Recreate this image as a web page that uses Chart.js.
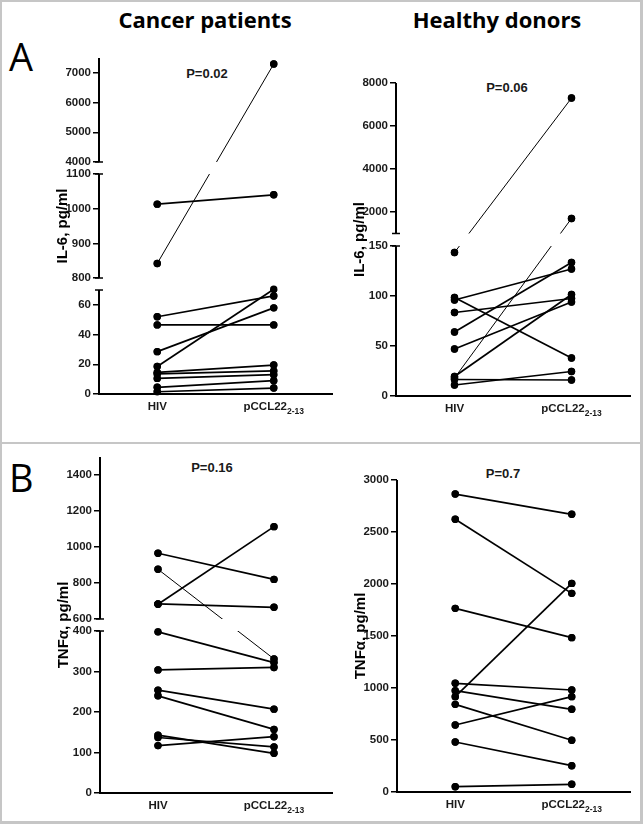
<!DOCTYPE html>
<html>
<head>
<meta charset="utf-8">
<script src="https://cdn.jsdelivr.net/npm/chart.js@4.4.1/dist/chart.umd.min.js"></script>
<style>
  body { margin: 0; background: #fff; font-family: "Liberation Sans", Arial, sans-serif; }
  #fig { position: relative; width: 643px; height: 824px; overflow: hidden; }
  .frame { position: absolute; left: 0; top: 0; width: 643px; height: 824px; box-sizing: border-box;
           border: 2px solid #c6c6c6; border-right-width: 3px; border-bottom-width: 3px; }
  .divider { position: absolute; left: 0; top: 442px; width: 643px; height: 2px; background: #c6c6c6; }
  canvas { position: absolute; }
  .head { position: absolute; width: 240px; text-align: center; font-family: "Open Sans"; font-weight: 700;
          font-size: 22px; line-height: 22px; color: #000; }
  .letter { position: absolute; font-family: "Open Sans"; font-size: 38px; line-height: 38px; color: #000; }
  .pval { position: absolute; width: 80px; text-align: center; font-weight: 700; font-size: 13px;
          line-height: 13px; color: #1a1a1a; }
</style>
</head>
<body>
<div id="fig">
  <div class="frame"></div>
  <div class="divider"></div>
  <div class="head" style="left:85px; top:8px;">Cancer patients</div>
  <div class="head" style="left:377px; top:8px;">Healthy donors</div>
  <div class="letter" style="left:9px; top:37px;">A</div>
  <div class="letter" style="left:9px; top:458px;">B</div>
  <div class="pval" style="left:167px; top:67px;">P=0.02</div>
  <div class="pval" style="left:467px; top:81px;">P=0.06</div>
  <div class="pval" style="left:172px; top:461px;">P=0.16</div>
  <div class="pval" style="left:463px; top:467px;">P=0.7</div>
  <canvas id="cancerIL6" width="340" height="400" style="left:0; top:40px;"></canvas>
  <canvas id="healthyIL6" width="313" height="400" style="left:330px; top:40px;"></canvas>
  <canvas id="cancerTNF" width="340" height="374" style="left:0; top:446px;"></canvas>
  <canvas id="healthyTNF" width="313" height="374" style="left:330px; top:446px;"></canvas>
</div>
<script>
  "use strict";

  // categories and tick labels
  const categories = ['HIV', 'pCCL22'];
  const categorySubs = ['', '2-13'];

  // IL-6, cancer patients (one value per donor, paired by index)
  const cancerIL6Hiv = [1013, 842, 52, 46.5, 28.5, 18.5, 14.5, 13.5, 10.5, 4.5, 1.5];
  const cancerIL6Pccl = [1040, 7300, 66, 46.5, 58, 70.5, 19.5, 15.5, 13, 9, 4];
  const cancerIL6Ticks = [0, 20, 40, 60, 800, 900, 1000, 1100, 4000, 5000, 6000, 7000];

  // IL-6, healthy donors
  const healthyIL6Hiv = [143.5, 18, 96, 98.5, 83.5, 64, 47, 19.5, 16.5, 11];
  const healthyIL6Pccl = [7300, 1700, 127, 38, 97.5, 133.5, 94, 101.5, 16, 24.5];
  const healthyIL6Ticks = [0, 50, 100, 150, 2000, 4000, 6000, 8000];

  // TNFa, cancer patients
  const cancerTNFHiv = [965, 876, 682, 684, 398, 304, 254, 240, 143, 137, 117];
  const cancerTNFPccl = [820, 331, 1113, 665, 322, 310, 207, 157, 98, 114, 139];
  const cancerTNFTicks = [0, 100, 200, 300, 400, 600, 800, 1000, 1200, 1400];

  // TNFa, healthy donors
  const healthyTNFHiv = [2865, 2622, 1766, 917, 1045, 974, 843, 644, 481, 51];
  const healthyTNFPccl = [2670, 1910, 1484, 2006, 981, 795, 497, 917, 253, 74];
  const healthyTNFTicks = [0, 500, 1000, 1500, 2000, 2500, 3000];

  // axis pieces: [min, max, fraction of axis height at min, at max]
  const SEGMENTS = {
    cancerIL6: [[0, 70, 0, 0.3095], [800, 1100, 0.3452, 0.6548], [4000, 7500, 0.6905, 1]],
    healthyIL6: [[0, 150, 0, 0.4792], [1000, 8000, 0.5192, 1]],
    cancerTNF: [[0, 400, 0, 0.4821], [600, 1500, 0.5179, 1]],
    healthyTNF: [[0, 3000, 0, 1]]
  };

  // linear scale with broken (piecewise) ranges
  class BrokenScale extends Chart.LinearScale {
    getPixelForValue(value) {
      const segs = SEGMENTS[this.chart.canvas.id];
      let s = segs[0];
      for (const seg of segs) if (value >= seg[0]) s = seg;
      const f = s[2] + (value - s[0]) / (s[1] - s[0]) * (s[3] - s[2]);
      return this.bottom - f * (this.bottom - this.top);
    }
    getValueForPixel(pixel) {
      const segs = SEGMENTS[this.chart.canvas.id];
      const f = (this.bottom - pixel) / (this.bottom - this.top);
      let s = segs[0];
      for (const seg of segs) if (f >= seg[2]) s = seg;
      return s[0] + (f - s[2]) / (s[3] - s[2]) * (s[1] - s[0]);
    }
  }
  BrokenScale.id = 'broken';
  BrokenScale.defaults = Chart.LinearScale.defaults;
  Chart.register(BrokenScale);

  function segIndex(segs, v) {
    let k = 0;
    segs.forEach((s, i) => { if (v >= s[0]) k = i; });
    return k;
  }

  const brokenAxis = {
    id: 'brokenAxis',
    afterDatasetsDraw(chart) {
      const { ctx, chartArea, scales: { y } } = chart;
      const segs = SEGMENTS[chart.canvas.id];
      ctx.save();
      // blank the lines where they cross an axis break
      ctx.fillStyle = '#fff';
      for (let i = 0; i < segs.length - 1; i++) {
        const yLow = y.getPixelForValue(segs[i][1]);
        const yHigh = y.getPixelForValue(segs[i + 1][0]);
        ctx.fillRect(chartArea.left + 2, yHigh, chartArea.right - chartArea.left, yLow - yHigh);
      }
      // put the dots back on top
      chart.data.datasets.forEach((d, i) => {
        chart.getDatasetMeta(i).data.forEach(pt => pt.draw(ctx, chartArea));
      });
      // axis pieces with end caps at the breaks
      const x = chartArea.left;
      ctx.strokeStyle = '#000';
      segs.forEach((s, i) => {
        const y0 = y.getPixelForValue(s[0]);
        const y1 = y.getPixelForValue(s[1]);
        ctx.lineWidth = 2;
        ctx.beginPath();
        ctx.moveTo(x, i === 0 ? y0 + 1 : y0);
        ctx.lineTo(x, y1);
        ctx.stroke();
        ctx.lineWidth = 1.5;
        const caps = [];
        if (i > 0) caps.push(y0);
        if (i < segs.length - 1) caps.push(y1);
        caps.forEach(cy => {
          ctx.beginPath();
          ctx.moveTo(x - 4, cy);
          ctx.lineTo(x + 4, cy);
          ctx.stroke();
        });
      });
      ctx.restore();
    },
    afterDraw(chart, args, opts) {
      const { ctx, chartArea, scales: { x } } = chart;
      ctx.save();
      // y axis title
      ctx.translate(chartArea.left - 36, (chartArea.top + chartArea.bottom) / 2);
      ctx.rotate(-Math.PI / 2);
      ctx.font = 'bold 15px "Liberation Sans", Arial';
      ctx.fillStyle = '#000';
      ctx.textAlign = 'center';
      ctx.textBaseline = 'middle';
      ctx.fillText(opts.title, 0, 0);
      ctx.restore();

      // category labels with subscript
      ctx.save();
      ctx.fillStyle = '#1a1a1a';
      ctx.textAlign = 'left';
      ctx.textBaseline = 'alphabetic';
      const base = chartArea.bottom + 16;
      categories.forEach((c, i) => {
        const px = x.getPixelForValue(i);
        ctx.font = 'bold 11.5px "Liberation Sans", Arial';
        const w1 = ctx.measureText(c).width;
        ctx.font = 'bold 8.5px "Liberation Sans", Arial';
        const w2 = categorySubs[i] ? ctx.measureText(categorySubs[i]).width : 0;
        const x0 = px - (w1 + w2) / 2;
        ctx.font = 'bold 11.5px "Liberation Sans", Arial';
        ctx.fillText(c, x0, base);
        if (categorySubs[i]) {
          ctx.font = 'bold 8.5px "Liberation Sans", Arial';
          ctx.fillText(categorySubs[i], x0 + w1, base + 3.5);
        }
      });
      ctx.restore();
    }
  };

  function makePanel(id, hiv, pccl, ticks, title, box, area) {
    const segs = SEGMENTS[id];
    const datasets = hiv.map((v, i) => ({
      data: [v, pccl[i]],
      borderColor: '#000',
      borderWidth: segIndex(segs, v) !== segIndex(segs, pccl[i]) ? 1 : 1.7,
      pointRadius: 3.7,
      pointBackgroundColor: '#000',
      pointBorderWidth: 0,
      tension: 0
    }));
    new Chart(document.getElementById(id), {
      type: 'line',
      data: { labels: categories, datasets: datasets },
      plugins: [brokenAxis],
      options: {
        responsive: false,
        animation: false,
        devicePixelRatio: 1,
        layout: { padding: { left: 0, bottom: 0, top: area.top - box.y, right: box.x + box.w - area.right } },
        plugins: {
          legend: { display: false },
          tooltip: { enabled: false },
          brokenAxis: { title: title }
        },
        scales: {
          x: {
            type: 'category',
            offset: true,
            grid: { display: false },
            border: { display: true, color: '#000', width: 2 },
            ticks: { display: false },
            afterFit: s => { s.height = box.y + box.h - area.bottom; }
          },
          y: {
            type: 'broken',
            min: segs[0][0],
            max: segs[segs.length - 1][1],
            border: { display: false },
            grid: { drawOnChartArea: false, drawTicks: true, tickLength: 6, color: '#000', lineWidth: 1.5 },
            ticks: {
              autoSkip: false,
              padding: 2,
              color: '#1a1a1a',
              font: { family: '"Liberation Sans", Arial', weight: 'bold', size: 11.5 },
              callback: v => String(v)
            },
            afterBuildTicks: s => { s.ticks = ticks.map(v => ({ value: v })); },
            afterFit: s => { s.width = area.left - box.x; }
          }
        }
      }
    });
  }

  makePanel('cancerIL6', cancerIL6Hiv, cancerIL6Pccl, cancerIL6Ticks, 'IL-6, pg/ml',
    { x: 0, y: 40, w: 340, h: 400 }, { left: 99, top: 58, right: 332, bottom: 394 });
  makePanel('healthyIL6', healthyIL6Hiv, healthyIL6Pccl, healthyIL6Ticks, 'IL-6, pg/ml',
    { x: 330, y: 40, w: 313, h: 400 }, { left: 396, top: 83, right: 630, bottom: 396 });
  makePanel('cancerTNF', cancerTNFHiv, cancerTNFPccl, cancerTNFTicks, 'TNF\u03b1, pg/ml',
    { x: 0, y: 446, w: 340, h: 374 }, { left: 100, top: 457, right: 332, bottom: 793 });
  makePanel('healthyTNF', healthyTNFHiv, healthyTNFPccl, healthyTNFTicks, 'TNF\u03b1, pg/ml',
    { x: 330, y: 446, w: 313, h: 374 }, { left: 397, top: 480, right: 630, bottom: 792 });
</script>
</body>
</html>
